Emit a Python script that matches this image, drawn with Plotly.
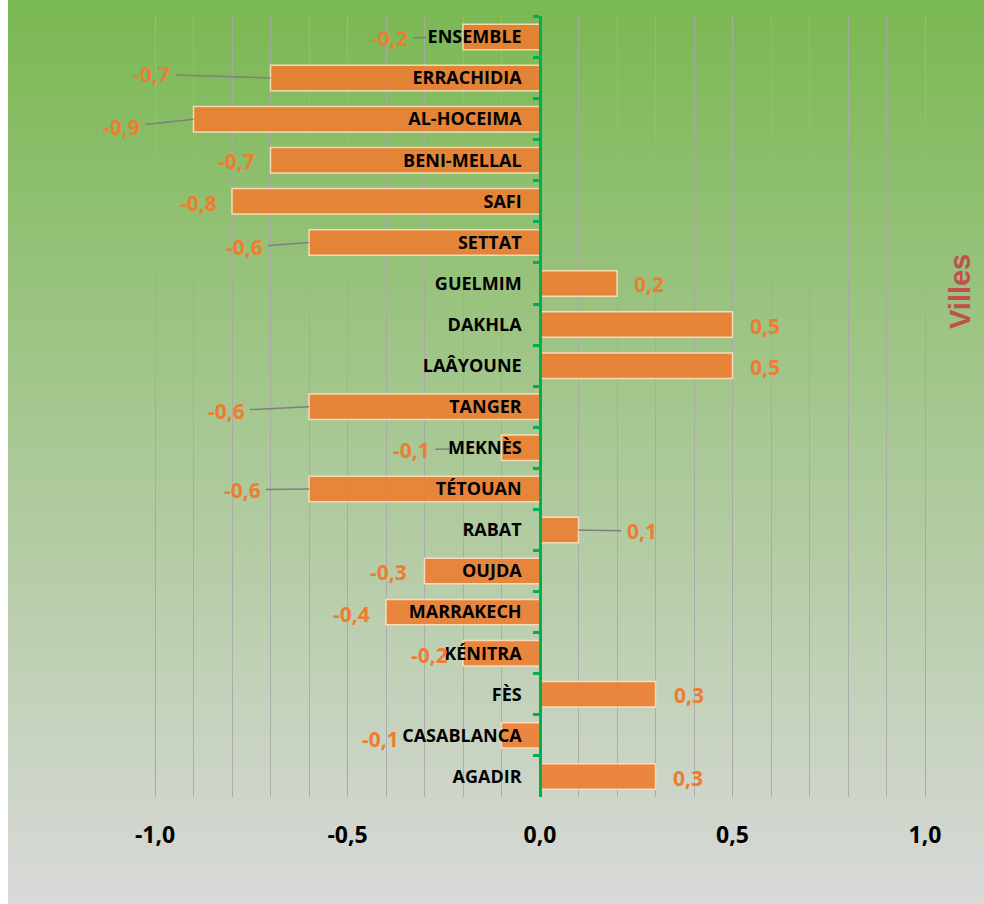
import base64
import plotly.graph_objects as go

# ---------------- data ----------------
villes = ["ENSEMBLE", "ERRACHIDIA", "AL-HOCEIMA", "BENI-MELLAL", "SAFI", "SETTAT",
          "GUELMIM", "DAKHLA", "LAÂYOUNE", "TANGER", "MEKNÈS", "TÉTOUAN", "RABAT",
          "OUJDA", "MARRAKECH", "KÉNITRA", "FÈS", "CASABLANCA", "AGADIR"]
valeurs = [-0.2, -0.7, -0.9, -0.7, -0.8, -0.6, 0.2, 0.5, 0.5, -0.6, -0.1, -0.6, 0.1,
           -0.3, -0.4, -0.2, 0.3, -0.1, 0.3]
x_tick_values = [-1.0, -0.5, 0.0, 0.5, 1.0]
x_tick_labels = ["-1,0", "-0,5", "0,0", "0,5", "1,0"]
axis_title = "Villes"

# ---------------- value-label placement (pixel offsets from bar end) ----------------
label_dx = [-74, -119, -72, -34, -34, -65, 32, 32, 32, -83, -90, -67, 63, -36, -35, -34, 33, -121, 32]
label_dy = [1, -4, 8, 1, 2, 5, 1, 1, 1, 4, 2, 1, 1, 1, 2, 2, 1, 4, 2]
leader = [True, True, True, False, False, True, False, False, False, True, True, True, True,
          False, False, False, False, False, False]
leader_standoff = [37, 0, 0, 0, 0, 0, 0, 0, 0, 0, 52, 0, 0, 0, 0, 0, 0, 0, 0]

OX = 8  # left white strip of the page
W, H = 984 - OX, 904
ML, MR, MT, MB = 153 - OX, 57, 16, 107
PW, PH = W - ML - MR, H - MT - MB
XMAX = PW / 770.0  # keeps -1 / +1 gridlines just inside the plot area

fig = go.Figure()
fig.add_trace(go.Bar(
    y=villes, x=valeurs, orientation="h", width=0.62,
    marker=dict(color="rgba(237,125,49,0.9)",
                line=dict(color="rgba(255,228,196,0.85)", width=1.5)),
    hoverinfo="skip",
))

label_font = dict(family="Open Sans", size=21, color="#ED7D31", weight="bold")
annotations = []
for v, c, dx, dy, ld, so in zip(valeurs, villes, label_dx, label_dy, leader, leader_standoff):
    txt = f"{v:.1f}".replace(".", ",")
    if ld:
        annotations.append(dict(x=v, y=c, xref="x", yref="y", text=txt, showarrow=True,
                                ax=dx, ay=dy, arrowhead=0, arrowwidth=1.5,
                                arrowcolor="#7f7f7f", standoff=so, borderpad=5,
                                font=label_font))
    else:
        annotations.append(dict(x=v, y=c, xref="x", yref="y", text=txt, showarrow=False,
                                xshift=dx, yshift=-dy, xanchor="center", yanchor="middle",
                                font=label_font))

annotations.append(dict(text=axis_title, xref="paper", yref="paper",
                        x=(960 - 153) / PW, y=1 - (292 - MT) / PH, showarrow=False,
                        textangle=-90, xanchor="center", yanchor="middle",
                        font=dict(family="Liberation Sans", size=29, color="#C0504D",
                                  weight="bold")))

svg = ('<svg xmlns="http://www.w3.org/2000/svg" width="976" height="904" '
       'preserveAspectRatio="none"><defs><linearGradient id="g" x1="0" y1="0" x2="0" y2="1">'
       '<stop offset="0" stop-color="#7ab852"/><stop offset="1" stop-color="#d9d9d9"/>'
       '</linearGradient></defs><rect width="976" height="904" fill="url(#g)"/></svg>')
bg = "data:image/svg+xml;base64," + base64.b64encode(svg.encode()).decode()

grid_col = "rgba(168,168,168,0.9)"
fig.update_layout(
    width=W, height=H,
    margin=dict(l=ML, r=MR, t=MT, b=MB, pad=0),
    paper_bgcolor="white", plot_bgcolor="rgba(0,0,0,0)",
    showlegend=False,
    annotations=annotations,
    images=[dict(source=bg, xref="paper", yref="paper",
                 x=-ML / PW, y=1 + MT / PH, sizex=W / PW, sizey=H / PH,
                 xanchor="left", yanchor="top", sizing="stretch", layer="below")],
    xaxis=dict(range=[-XMAX, XMAX], tickmode="array", tickvals=x_tick_values,
               ticktext=x_tick_labels, showgrid=True, gridcolor=grid_col,
               gridwidth=1.3, zeroline=False, showline=False, ticks="",
               ticklabelstandoff=22,
               tickfont=dict(family="Open Sans", size=23, color="black", weight="bold"),
               minor=dict(dtick=0.1, tick0=0, showgrid=True,
                          gridcolor=grid_col, gridwidth=1.3)),
    yaxis=dict(type="category", autorange="reversed", anchor="free", position=0.5,
               showline=True, linecolor="#00B050", linewidth=2.5,
               ticks="outside", tickson="boundaries", ticklen=6, tickwidth=2.5,
               tickcolor="#00B050", showgrid=False, zeroline=False,
               ticklabelstandoff=14,
               tickfont=dict(family="Open Sans", size=18, color="black", weight="bold")),
)

fig.write_html("out.html", post_script="document.body.style.margin='0px 0px 0px 8px';")
